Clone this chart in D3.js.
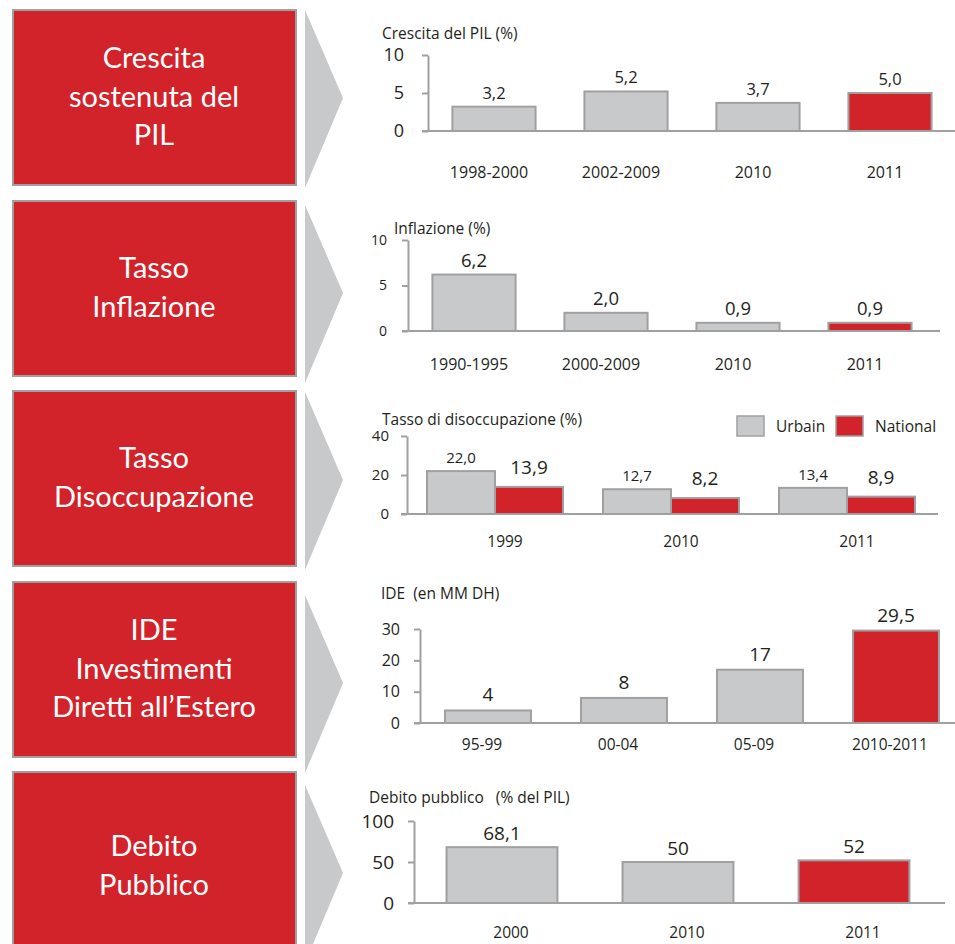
<html>
<head>
<meta charset="utf-8">
<title>Indicatori macroeconomici</title>
<script src="https://cdn.jsdelivr.net/npm/d3@7"></script>
<style>
  body { margin: 0; background: #fff; }
  text { font-family: "Open Sans", sans-serif; fill: #231f20; }
  .box-label { font-family: Lato, sans-serif; fill: #fff; }
</style>
</head>
<body>
<svg id="chart"></svg>
<script>
'use strict';

// data
const boxLabels = [
  ["Crescita", "sostenuta del", "PIL"],
  ["Tasso", "Inflazione"],
  ["Tasso", "Disoccupazione"],
  ["IDE", "Investimenti", "Diretti all’Estero"],
  ["Debito", "Pubblico"]
];

const gdpCats = ["1998-2000", "2002-2009", "2010", "2011"];
const gdpValues = [3.2, 5.2, 3.7, 5.0];
const gdpTicks = [0, 5, 10];

const inflCats = ["1990-1995", "2000-2009", "2010", "2011"];
const inflValues = [6.2, 2.0, 0.9, 0.9];
const inflTicks = [0, 5, 10];

const unempCats = ["1999", "2010", "2011"];
const unempSeries = ["Urbain", "National"];
const unempUrbain = [22.0, 12.7, 13.4];
const unempNational = [13.9, 8.2, 8.9];
const unempTicks = [0, 20, 40];

const ideCats = ["95-99", "00-04", "05-09", "2010-2011"];
const ideValues = [4, 8, 17, 29.5];
const ideTicks = [0, 10, 20, 30];

const debtCats = ["2000", "2010", "2011"];
const debtValues = [68.1, 50, 52];
const debtTicks = [0, 50, 100];

const W = 955, H = 944;
const RED = "#d2232a", GREY = "#c8c9cb", EDGE = "#a0a0a0";

const svg = d3.select("#chart").attr("width", W).attr("height", H);

const fmt1 = v => v.toFixed(1).replace(".", ",");
const fmtPlain = v => String(v).replace(".", ",");

// left red boxes + grey arrows
const boxTops = [10, 201, 391, 582, 772];
const arrowTops = [10, 205, 392, 595, 785];
const textShift = [0, 0, 0, 0, 7];
const boxH = 175, lineGap = 38.5;

boxLabels.forEach(function (lines, i) {
  const top = boxTops[i];
  svg.append("rect")
    .attr("x", 13).attr("y", top)
    .attr("width", 283).attr("height", boxH)
    .attr("fill", RED).attr("stroke", EDGE).attr("stroke-width", 2);

  const at = arrowTops[i];
  svg.append("path")
    .attr("d", `M305,${at} L343,${at + 88} L305,${at + 178} Z`)
    .attr("fill", GREY);

  const first = top + boxH / 2 + 9 + textShift[i] - (lines.length - 1) * lineGap / 2;
  svg.append("text")
    .attr("class", "box-label")
    .attr("text-anchor", "middle")
    .attr("font-size", 29)
    .selectAll("tspan")
    .data(lines)
    .enter().append("tspan")
    .attr("x", 154)
    .attr("y", (d, j) => first + j * lineGap)
    .text(d => d);
});

// one panel = a bar chart with its own little axis
function drawPanel(p) {
  const g = svg.append("g");

  const y = d3.scaleLinear().domain([0, p.max]).range([p.y0, p.yTop]);
  const x = d3.scaleBand().domain(p.cats)
    .range([p.axisX, p.axisX + p.step * p.cats.length])
    .paddingInner(p.pad).paddingOuter(p.pad / 2);

  // baseline
  g.append("line")
    .attr("x1", p.axisX - 6).attr("x2", p.baseEnd)
    .attr("y1", p.y0).attr("y2", p.y0)
    .attr("stroke", EDGE).attr("stroke-width", 2);

  const ax = g.append("g")
    .attr("transform", `translate(${p.axisX},0)`)
    .call(d3.axisLeft(y).tickValues(p.ticks).tickSize(6).tickSizeOuter(0)
      .tickPadding(p.tickPad).tickFormat(d3.format("d")));
  ax.select(".domain").attr("stroke", EDGE).attr("stroke-width", 2);
  ax.selectAll(".tick line").attr("stroke", EDGE).attr("stroke-width", 2);
  ax.selectAll(".tick text")
    .attr("font-family", "'Open Sans', sans-serif")
    .attr("font-size", p.tickFont).attr("fill", "#231f20");

  g.append("text")
    .attr("x", p.titleX).attr("y", p.titleY)
    .attr("font-size", 15.5)
    .style("white-space", "pre")
    .text(p.title);

  if (p.series) {
    // grouped bars
    const x1 = d3.scaleBand().domain(p.series).range([0, x.bandwidth()]);
    p.cats.forEach(function (c, i) {
      const row = p.series.map((s, k) => ({ s: s, v: p.values[k][i], k: k }));
      const cg = g.append("g").attr("transform", `translate(${x(c)},0)`);
      cg.selectAll("rect").data(row).enter().append("rect")
        .attr("x", d => x1(d.s)).attr("width", x1.bandwidth())
        .attr("y", d => y(d.v)).attr("height", d => p.y0 - y(d.v))
        .attr("fill", d => d.k === 1 ? RED : GREY)
        .attr("stroke", EDGE).attr("stroke-width", 2);
      cg.selectAll("text").data(row).enter().append("text")
        .attr("x", d => x1(d.s) + x1.bandwidth() / 2)
        .attr("y", d => y(d.v) - p.labelGap[d.k])
        .attr("text-anchor", "middle")
        .attr("font-size", d => p.labelFont[d.k])
        .text(d => p.fmt(d.v));
    });
  } else {
    const rows = p.cats.map((c, i) => ({ c: c, v: p.values[i], i: i }));
    g.selectAll("rect.bar").data(rows).enter().append("rect")
      .attr("class", "bar")
      .attr("x", d => x(d.c)).attr("width", x.bandwidth())
      .attr("y", d => y(d.v)).attr("height", d => p.y0 - y(d.v))
      .attr("fill", d => d.i === p.highlight ? RED : GREY)
      .attr("stroke", EDGE).attr("stroke-width", 2);
    g.selectAll("text.val").data(rows).enter().append("text")
      .attr("class", "val")
      .attr("x", d => x(d.c) + x.bandwidth() / 2)
      .attr("y", d => y(d.v) - p.labelGap)
      .attr("text-anchor", "middle")
      .attr("font-size", p.labelFont)
      .text(d => p.fmt(d.v));
  }

  // category labels
  g.selectAll("text.cat").data(p.cats).enter().append("text")
    .attr("class", "cat")
    .attr("x", d => x(d) + x.bandwidth() / 2 + p.catDx)
    .attr("y", p.catY)
    .attr("text-anchor", "middle")
    .attr("font-size", p.catFont)
    .text(d => d);

  if (p.legend) {
    const lg = g.append("g");
    p.legend.forEach(function (l, k) {
      lg.append("rect")
        .attr("x", l.x).attr("y", 416).attr("width", 27).attr("height", 20)
        .attr("fill", k === 1 ? RED : GREY)
        .attr("stroke", EDGE).attr("stroke-width", 1.5);
      lg.append("text")
        .attr("x", l.x + 39).attr("y", 432)
        .attr("font-size", 15.5)
        .text(p.series[k]);
    });
  }
}

drawPanel({
  title: "Crescita del PIL (%)", titleX: 382, titleY: 39,
  cats: gdpCats, values: gdpValues, ticks: gdpTicks, max: 10, highlight: 3,
  axisX: 428, y0: 131, yTop: 55, step: 132, pad: 0.37, baseEnd: 955,
  tickFont: 18, tickPad: 18, labelFont: 16.5, labelGap: 8, fmt: fmt1,
  catY: 178, catDx: -5, catFont: 16
});

drawPanel({
  title: "Inflazione (%)", titleX: 394, titleY: 234,
  cats: inflCats, values: inflValues, ticks: inflTicks, max: 10, highlight: 3,
  axisX: 408, y0: 331, yTop: 240, step: 132, pad: 0.37, baseEnd: 940,
  tickFont: 14, tickPad: 15, labelFont: 18.5, labelGap: 8, fmt: fmt1,
  catY: 370, catDx: -5, catFont: 16
});

drawPanel({
  title: "Tasso di disoccupazione (%)", titleX: 382, titleY: 425,
  cats: unempCats, series: unempSeries, values: [unempUrbain, unempNational],
  ticks: unempTicks, max: 40,
  axisX: 407, y0: 514, yTop: 436, step: 176, pad: 0.227, baseEnd: 938,
  tickFont: 15, tickPad: 12, labelFont: [15, 19], labelGap: [8, 13], fmt: fmt1,
  catY: 547, catDx: 10, catFont: 15.5,
  legend: [{ x: 737 }, { x: 836 }]
});

drawPanel({
  title: "IDE  (en MM DH)", titleX: 381, titleY: 599,
  cats: ideCats, values: ideValues, ticks: ideTicks, max: 30, highlight: 3,
  axisX: 420, y0: 723, yTop: 629, step: 136, pad: 0.368, baseEnd: 955,
  tickFont: 16, tickPad: 14, labelFont: 19, labelGap: 9, fmt: fmtPlain,
  catY: 750, catDx: -6, catFont: 15.5
});

drawPanel({
  title: "Debito pubblico   (% del PIL)", titleX: 369, titleY: 803,
  cats: debtCats, values: debtValues, ticks: debtTicks, max: 100, highlight: 2,
  axisX: 414, y0: 903, yTop: 821, step: 176, pad: 0.37, baseEnd: 945,
  tickFont: 19, tickPad: 14, labelFont: 19, labelGap: 7, fmt: fmtPlain,
  catY: 938, catDx: 9, catFont: 15.5
});
</script>
</body>
</html>
